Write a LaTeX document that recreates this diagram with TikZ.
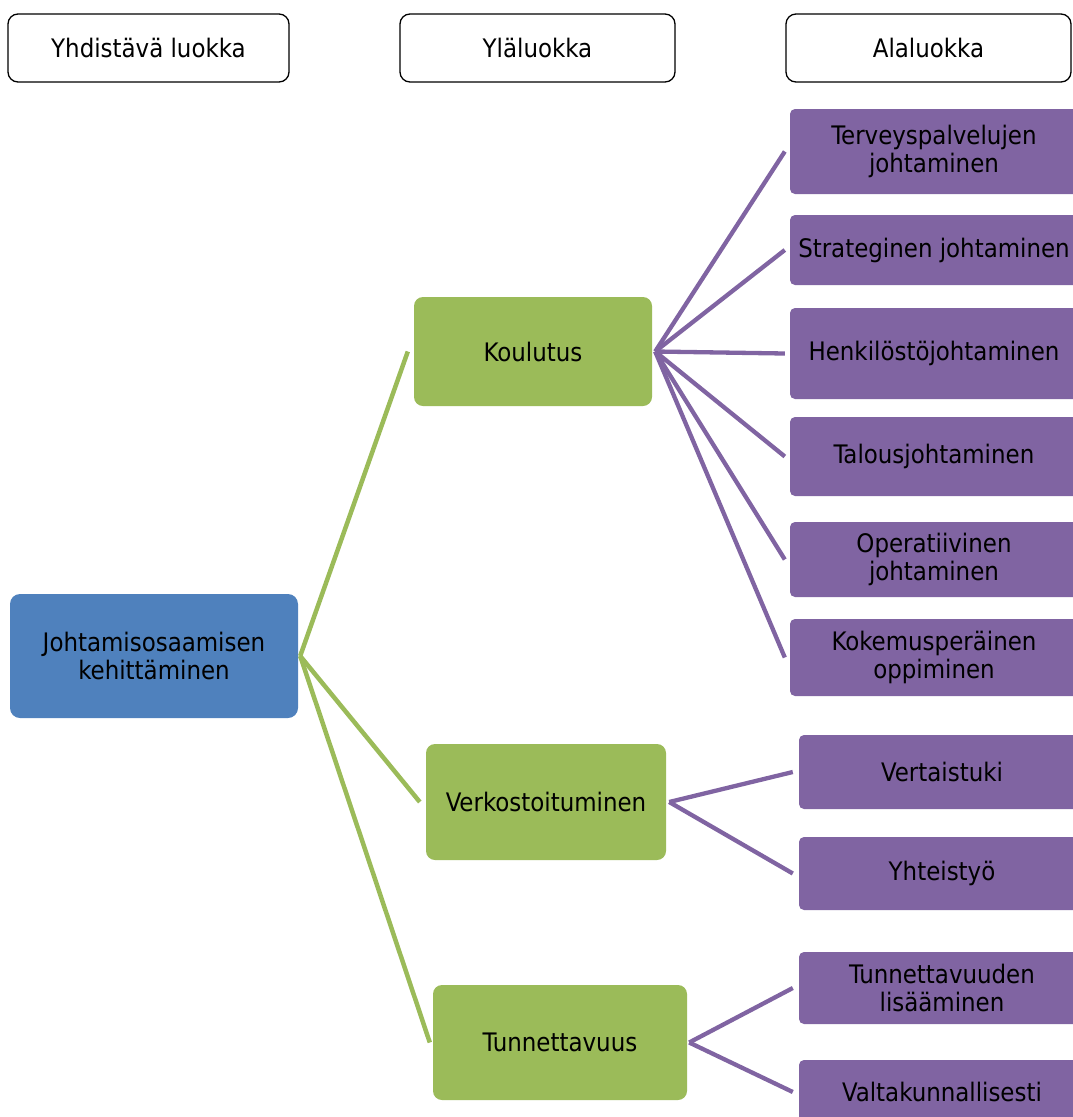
\documentclass[tikz,border=0pt]{standalone}
\usepackage{fontspec}
\setmainfont{DejaVu Sans Condensed}
\usetikzlibrary{calc}
\definecolor{blueb}{HTML}{4F81BD}
\definecolor{greenb}{HTML}{9BBB59}
\definecolor{purpb}{HTML}{8064A2}
\begin{document}
\begin{tikzpicture}[x=1pt,y=-1pt,
  every node/.style={font=\fontsize{25.5}{28.5}\selectfont, align=center, inner sep=0pt, text=black},
  hdr/.style={draw=black, line width=1.3pt, rounded corners=10pt, fill=white, minimum height=68pt},
  bluebox/.style={fill=blueb, rounded corners=10pt},
  greenbox/.style={fill=greenb, rounded corners=9pt},
  purpbox/.style={fill=purpb, rounded corners=5pt},
  glink/.style={draw=greenb, line width=4.5pt},
  plink/.style={draw=purpb, line width=4.3pt}]
\useasboundingbox (0,0) rectangle (1073,1117);
\clip (0,0) rectangle (1073,1117);
% headers
\node[hdr, minimum width=281pt] (h1) at (148.5,48) {Yhdistävä luokka};
\node[hdr, minimum width=275pt] (h2) at (537.5,48) {Yläluokka};
\node[hdr, minimum width=285pt] (h3) at (928.5,48) {Alaluokka};
% root
\node[bluebox, minimum width=288pt, minimum height=124pt] (root) at (154,656) {Johtamisosaamisen\\kehittäminen};
% level 2
\node[greenbox, minimum width=238pt, minimum height=109pt] (kou) at (533,351.5) {Koulutus};
\node[greenbox, minimum width=240pt, minimum height=116pt] (ver) at (546,802) {Verkostoituminen};
\node[greenbox, minimum width=254pt, minimum height=115pt] (tun) at (560,1042.5) {Tunnettavuus};
% level 3
\node[purpbox, minimum width=288pt, minimum height=85pt] (p1) at (934,151.5) {Terveyspalvelujen\\johtaminen};
\node[purpbox, minimum width=288pt, minimum height=70pt] (p2) at (934,250) {Strateginen johtaminen};
\node[purpbox, minimum width=288pt, minimum height=91pt] (p3) at (934,353.5) {Henkilöstöjohtaminen};
\node[purpbox, minimum width=288pt, minimum height=79pt] (p4) at (934,456.5) {Talousjohtaminen};
\node[purpbox, minimum width=288pt, minimum height=75pt] (p5) at (934,559.5) {Operatiivinen\\johtaminen};
\node[purpbox, minimum width=288pt, minimum height=77pt] (p6) at (934,657.5) {Kokemusperäinen\\oppiminen};
\node[purpbox, minimum width=286pt, minimum height=74pt] (p7) at (942,772) {Vertaistuki};
\node[purpbox, minimum width=286pt, minimum height=73pt] (p8) at (942,873.5) {Yhteistyö};
\node[purpbox, minimum width=286pt, minimum height=72pt] (p9) at (942,988) {Tunnettavuuden\\lisääminen};
\node[purpbox, minimum width=286pt, minimum height=64pt] (p10) at (942,1092) {Valtakunnallisesti};
% green links
\draw[glink] ($(root.east)+(2,0)$) -- ($(kou.west)+(-6,0)$);
\draw[glink] ($(root.east)+(2,0)$) -- ($(ver.west)+(-6,0)$);
\draw[glink] ($(root.east)+(2,0)$) -- ($(tun.west)+(-3,0)$);
% purple links
\foreach \p in {p1,p2,p3,p4,p5,p6}
  \draw[plink] ($(kou.east)+(3,0)$) -- ($(\p.west)+(-5,0)$);
\foreach \p in {p7,p8}
  \draw[plink] ($(ver.east)+(3,0)$) -- ($(\p.west)+(-6,0)$);
\foreach \p in {p9,p10}
  \draw[plink] ($(tun.east)+(2,0)$) -- ($(\p.west)+(-6,0)$);
\end{tikzpicture}
\end{document}
